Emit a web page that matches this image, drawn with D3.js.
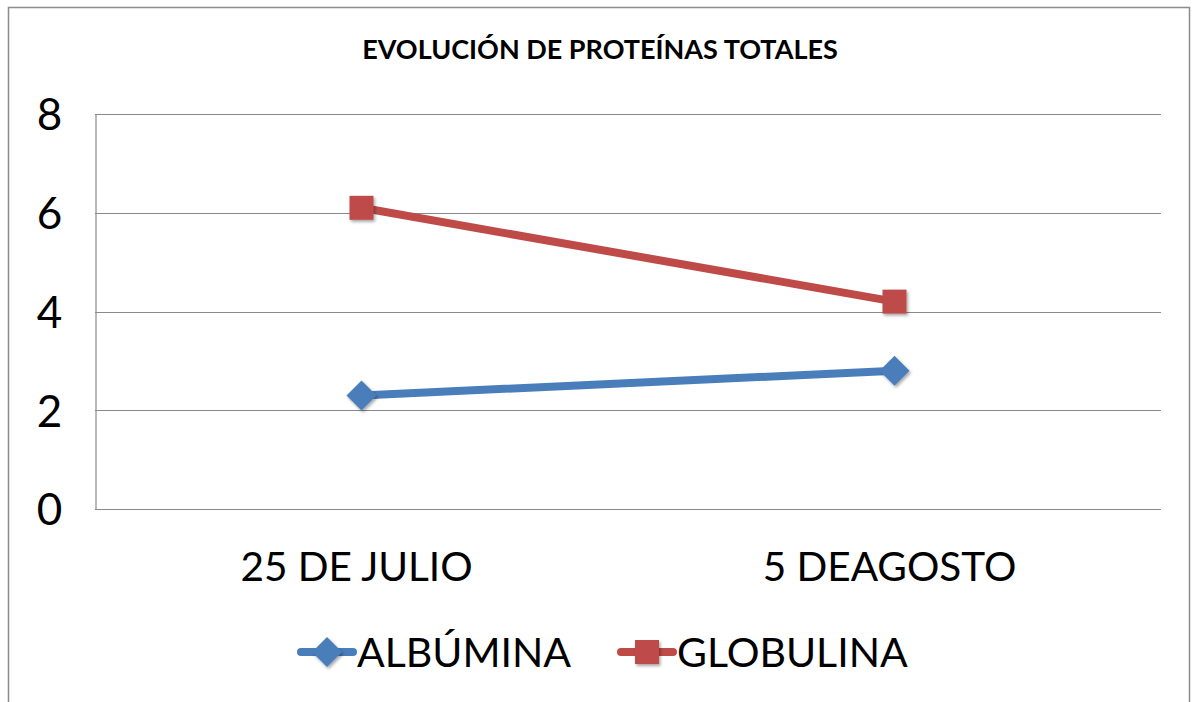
<!DOCTYPE html>
<html>
<head>
<meta charset="utf-8">
<script src="https://cdn.jsdelivr.net/npm/d3@7"></script>
<style>
  body { margin: 0; background: #fff; }
  text { font-family: Lato, "Open Sans", sans-serif; fill: #000; }
</style>
</head>
<body>
<div id="chart"></div>
<script>
let width = 1197,
    height = 702

// data
const categories = ["25 DE JULIO", "5 DEAGOSTO"]
const albumina = [2.3, 2.8]
const globulina = [6.1, 4.2]
const yTicks = [0, 2, 4, 6, 8]
const series = [
    {name: "ALBÚMINA", values: albumina, color: "#4a7ebb", marker: "diamond"},
    {name: "GLOBULINA", values: globulina, color: "#be4b48", marker: "square"}
]

let svg = d3.select("#chart").append("svg")
    .attr("width", width)
    .attr("height", height)

// drop shadow for markers
let defs = svg.append("defs")
let f = defs.append("filter").attr("id", "shadow")
    .attr("x", "-30%").attr("y", "-30%").attr("width", "170%").attr("height", "170%")
f.append("feDropShadow")
    .attr("dx", 1.5).attr("dy", 2).attr("stdDeviation", 1.5)
    .attr("flood-color", "#000").attr("flood-opacity", 0.35)

// outer border
svg.append("rect")
    .attr("x", 8.5).attr("y", 7.5)
    .attr("width", 1181).attr("height", 720)
    .attr("fill", "none")
    .attr("stroke", "#8c8c8c")
    .attr("stroke-width", 1.5)

let plot = {left: 95, right: 1161, top: 114, bottom: 509}

let x = d3.scaleBand().domain(categories).range([plot.left, plot.right])
let y = d3.scaleLinear().domain([0, 8]).range([plot.bottom, plot.top])

// title
svg.append("text")
    .attr("x", 600).attr("y", 59)
    .attr("text-anchor", "middle")
    .attr("font-weight", "bold")
    .attr("font-size", 27)
    .text("EVOLUCIÓN DE PROTEÍNAS TOTALES")

// gridlines
svg.append("g").selectAll("line")
    .data(yTicks)
    .enter().append("line")
    .attr("x1", plot.left).attr("x2", plot.right)
    .attr("y1", d => Math.round(y(d)) + 0.5)
    .attr("y2", d => Math.round(y(d)) + 0.5)
    .attr("stroke", "#8a8a8a")
    .attr("stroke-width", 1.2)

// y axis
let yAxis = svg.append("g")
    .attr("transform", "translate(" + (plot.left + 0.5) + ",0)")
    .call(d3.axisLeft(y).tickValues(yTicks).tickSize(0).tickPadding(46))
yAxis.select(".domain").attr("stroke", "#8a8a8a").attr("stroke-width", 1.2)
yAxis.selectAll("text")
    .attr("font-size", 44)
    .attr("font-family", "Lato, sans-serif")
    .attr("fill", "#000")
    .attr("text-anchor", "middle")
    .attr("dy", "0.36em")

// x axis labels
let xAxis = svg.append("g")
    .attr("transform", "translate(0," + plot.bottom + ")")
    .call(d3.axisBottom(x).tickSize(0).tickPadding(43))
xAxis.select(".domain").remove()
xAxis.selectAll("text")
    .attr("font-size", 40.5)
    .attr("font-family", "Lato, sans-serif")
    .attr("fill", "#000")
    .attr("dx", -5)

let cx = d => x(d) + x.bandwidth() / 2

let line = d3.line()
    .x((d, i) => cx(categories[i]))
    .y(d => y(d))

function drawMarker(g, type, color, px, py) {
    if (type === "square") {
        g.append("rect")
            .attr("x", px - 12).attr("y", py - 12)
            .attr("width", 24).attr("height", 24)
            .attr("fill", color)
            .attr("filter", "url(#shadow)")
    } else {
        g.append("path")
            .attr("d", "M" + px + "," + (py - 15) + "L" + (px + 15) + "," + py + "L" + px + "," + (py + 15) + "L" + (px - 15) + "," + py + "Z")
            .attr("fill", color)
            .attr("filter", "url(#shadow)")
    }
}

series.forEach(s => {
    svg.append("path")
        .datum(s.values)
        .attr("d", line)
        .attr("fill", "none")
        .attr("stroke", s.color)
        .attr("stroke-width", 8)
        .attr("stroke-linecap", "round")
    let mg = svg.append("g")
    s.values.forEach((v, i) => drawMarker(mg, s.marker, s.color, cx(categories[i]), y(v)))
})

// legend
let legendX = [297, 617]
series.forEach((s, i) => {
    let lg = svg.append("g").attr("transform", "translate(" + legendX[i] + ",652)")
    lg.append("line")
        .attr("x1", 4).attr("x2", 56)
        .attr("y1", 0).attr("y2", 0)
        .attr("stroke", s.color)
        .attr("stroke-width", 8)
        .attr("stroke-linecap", "round")
    drawMarker(lg, s.marker, s.color, 30, 0)
    lg.append("text")
        .attr("x", 60).attr("y", 0)
        .attr("dy", "0.36em")
        .attr("font-size", 41)
        .text(s.name)
})
</script>
</body>
</html>
